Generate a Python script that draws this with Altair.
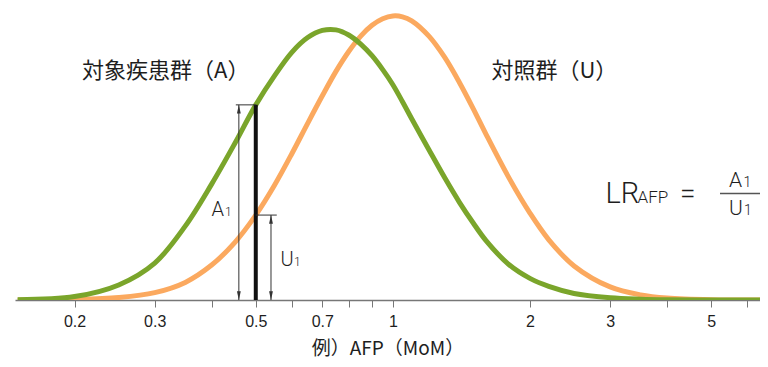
import altair as alt
import pandas as pd

# AFP (MoM) sample positions and curve heights (relative density, % of the control-group peak)
afp = [0.15, 0.2, 0.25, 0.3, 0.35, 0.4, 0.45, 0.5, 0.55, 0.6, 0.65, 0.7, 0.75, 0.8,
       0.85, 0.9, 0.95, 1.0, 1.05, 1.1, 1.2, 1.3, 1.4, 1.5, 1.6, 1.8, 2.0, 2.2, 2.5,
       3.0, 3.5, 4.0, 5.0, 6.4]
affected = [0.1, 1.2, 5.3, 13.0, 26.0, 40.8, 55.2, 68.7, 79.0, 87.2, 92.4, 94.9, 95.1, 93.3,
            90.1, 86.0, 81.1, 75.8, 69.8, 63.8, 52.9, 43.0, 34.4, 27.2, 21.0, 12.4, 7.6, 4.8, 2.3,
            0.8, 0.3, 0.1, 0.0, 0.0]
control = [0.0, 0.2, 0.9, 2.6, 6.2, 12.3, 20.3, 29.9, 40.5, 51.5, 62.2, 71.9, 80.5, 87.5,
           92.9, 96.7, 99.0, 100.0, 99.7, 98.3, 92.9, 85.4, 76.6, 67.5, 58.5, 42.9, 30.6, 21.2, 12.0,
           4.6, 1.8, 0.7, 0.1, 0.0]

tick_values = [0.2, 0.3, 0.4, 0.5, 0.6, 0.7, 0.8, 0.9, 1, 2, 3, 4, 5, 6]
tick_labels = [0.2, 0.3, 0.5, 0.7, 1, 2, 3, 5]

example_value = 0.5          # the AFP value marked by the black line
arrow_a_x = 0.459            # where the A1 arrow stands
arrow_u_x = 0.54             # where the U1 arrow stands
tick_a_from = 0.452
tick_u_to = 0.556

GREEN = "#7aa52b"
ORANGE = "#fba95f"
TEXT = "#1e1e1e"
JP = "Noto Sans CJK JP"
LAT = "Roboto"

a_val = affected[afp.index(example_value)]
u_val = control[afp.index(example_value)]

curves = pd.DataFrame({
    "afp": afp * 2,
    "dens": affected + control,
    "group": ["対象疾患群（A）"] * len(afp) + ["対照群（U）"] * len(afp),
})

xscale = alt.Scale(type="log", domain=[0.148, 6.4], nice=False)
yscale = alt.Scale(domain=[0, 102.8], nice=False, zero=True)

label_test = "indexof([" + ",".join(str(v) for v in tick_labels) + "], datum.value) >= 0 ? datum.label : ''"

X = alt.X("afp:Q", scale=xscale,
          axis=alt.Axis(values=tick_values, format="~g", labelExpr=label_test,
                        title="例）AFP（MoM）", grid=False, tickSize=7, tickWidth=1,
                        tickColor="#777", domainColor="#777", domainWidth=1.5,
                        labelFont="Liberation Sans Narrow, Liberation Sans", labelFontSize=16,
                        labelColor=TEXT, labelPadding=6, labelOverlap=False, labelFlush=False,
                        titleFont=JP, titleFontSize=19, titleFontWeight="normal",
                        titleColor=TEXT, titlePadding=10))
Y = alt.Y("dens:Q", scale=yscale, axis=None)

orange_line = alt.Chart(curves).transform_filter(alt.datum.group == "対照群（U）").mark_line(
    color=ORANGE, strokeWidth=5, interpolate="catmull-rom", clip=True).encode(x=X, y=Y)
green_line = alt.Chart(curves).transform_filter(alt.datum.group == "対象疾患群（A）").mark_line(
    color=GREEN, strokeWidth=5, interpolate="catmull-rom", clip=True).encode(x=X, y=Y)

marker = pd.DataFrame({"afp": [example_value], "y0": [0.0], "y1": [a_val]})
black = alt.Chart(marker).mark_rule(color="#111", strokeWidth=4).encode(
    x=X, y=alt.Y("y0:Q", scale=yscale, axis=None), y2="y1:Q")

arrows = pd.DataFrame({"afp": [arrow_a_x, arrow_u_x], "y0": [0.0, 0.0], "y1": [a_val, u_val]})
arrow_lines = alt.Chart(arrows).mark_rule(color="#333", strokeWidth=1).encode(
    x=X, y=alt.Y("y0:Q", scale=yscale, axis=None), y2="y1:Q")

heads_up = alt.Chart(pd.DataFrame({"afp": [arrow_a_x, arrow_u_x], "dens": [a_val, u_val]})).mark_point(
    shape="M0,0L-0.22,1L0.22,1Z", size=300, filled=True, color="#333", opacity=1, strokeWidth=0
).encode(x=X, y=Y)
heads_down = alt.Chart(pd.DataFrame({"afp": [arrow_a_x, arrow_u_x], "dens": [0.0, 0.0]})).mark_point(
    shape="M0,0L-0.22,-1L0.22,-1Z", size=300, filled=True, color="#333", opacity=1, strokeWidth=0
).encode(x=X, y=Y)

hticks = pd.DataFrame({"afp": [tick_a_from, example_value], "afp2": [example_value, tick_u_to],
                       "dens": [a_val, u_val]})
htick_lines = alt.Chart(hticks).mark_rule(color="#333", strokeWidth=1).encode(
    x=X, x2="afp2:Q", y=Y)

one = pd.DataFrame({"k": [0]})


def label(text, x, y, size, font=LAT, weight=300, align="left"):
    return alt.Chart(one).mark_text(
        text=text, align=align, baseline="alphabetic", fontSize=size, font=font,
        fontWeight=weight, color=TEXT).encode(x=alt.value(x), y=alt.value(y))


texts = [
    label("対象疾患群（A）", 67, 70, 22, font=JP, weight=400),
    label("対照群（U）", 476.5, 70, 22, font=JP, weight=400),
    label("A", 196.5, 208, 20),
    label("1", 210, 208, 12),
    label("U", 265.5, 258, 20),
    label("1", 279, 258, 12),
    label("LR", 590.5, 194.7, 29),
    label("AFP", 622.5, 194.7, 17),
    label("=", 665, 194.7, 28),
    label("A", 714, 179, 21),
    label("1", 728.5, 179, 14),
    label("U", 714, 207, 21),
    label("1", 729, 207, 14),
]

frac_line = alt.Chart(one).mark_rule(color="#555", strokeWidth=1.5).encode(
    x=alt.value(705), x2=alt.value(748), y=alt.value(185.5))

chart = alt.layer(
    orange_line, green_line, black, arrow_lines, htick_lines, heads_up, heads_down,
    *texts, frac_line
).properties(
    width=745, height=292,
    autosize=alt.AutoSizeParams(type="none"),
    padding={"left": 7, "top": 0, "right": 0, "bottom": 60},
    background="white",
).configure_view(stroke=None)

chart.save("out.html", embed_options={"renderer": "svg", "actions": False})
